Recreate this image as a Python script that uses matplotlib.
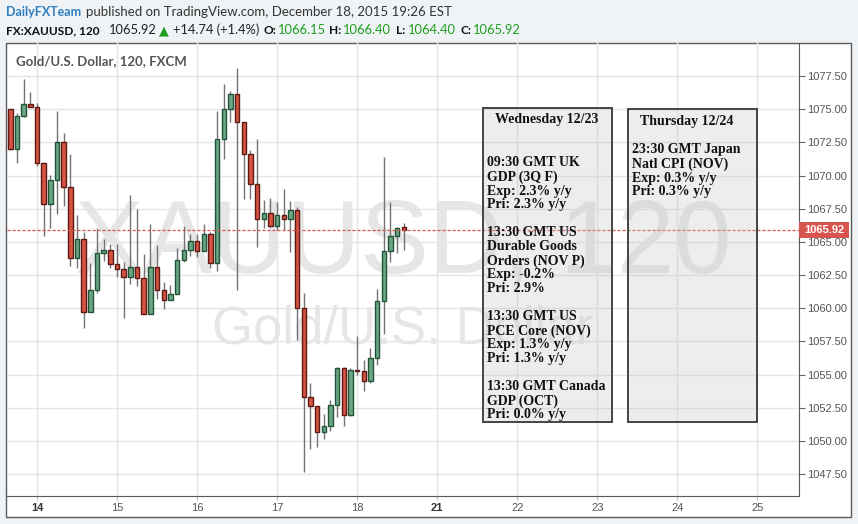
import matplotlib

matplotlib.use("Agg")
import matplotlib.pyplot as plt
from matplotlib.patches import Rectangle
import numpy as np

W, H = 858, 524

# 120-minute bars, Dec 13 (Sunday open) .. Dec 18
opens = [1074.99, 1071.97, 1074.46, 1075.36, 1075.14, 1070.91, 1067.89, 1069.63, 1072.50, 1069.10,
         1063.82, 1065.23, 1059.74, 1061.40, 1064.20, 1064.42, 1063.37, 1062.99, 1062.38, 1063.14,
         1062.31, 1059.59, 1063.14, 1061.40, 1060.65, 1061.10, 1063.67, 1064.42, 1065.10, 1064.35,
         1065.58, 1063.44, 1072.72, 1074.99, 1076.12, 1074.00, 1071.59, 1069.33, 1066.74, 1067.21,
         1066.23, 1066.99, 1066.74, 1067.44, 1060.02, 1053.33, 1052.65, 1050.69, 1051.14, 1052.73,
         1055.52, 1051.97, 1055.37, 1055.29, 1054.54, 1056.27, 1060.57, 1064.35, 1065.48, 1066.15]
highs = [1075.02, 1074.68, 1077.27, 1076.29, 1075.46, 1071.04, 1070.03, 1074.86, 1073.22, 1071.61,
         1067.01, 1065.73, 1063.42, 1066.01, 1065.20, 1064.82, 1064.85, 1063.47, 1068.52, 1067.46,
         1064.07, 1066.38, 1064.75, 1061.96, 1061.73, 1064.57, 1066.18, 1065.58, 1065.58, 1066.33,
         1065.78, 1074.86, 1076.90, 1076.34, 1078.10, 1074.02, 1071.92, 1072.72, 1068.19, 1068.29,
         1067.99, 1068.97, 1068.07, 1067.62, 1061.13, 1054.34, 1052.67, 1052.00, 1053.05, 1055.55,
         1055.59, 1055.52, 1057.88, 1056.12, 1057.03, 1061.48, 1071.39, 1067.99, 1066.13, 1066.40]
lows = [1071.95, 1070.96, 1074.38, 1075.14, 1070.71, 1065.45, 1066.06, 1067.11, 1067.72, 1063.19,
        1063.04, 1058.54, 1059.69, 1061.15, 1063.54, 1063.04, 1062.36, 1059.27, 1061.83, 1061.68,
        1059.57, 1059.57, 1060.70, 1059.94, 1060.63, 1061.08, 1063.49, 1063.92, 1063.87, 1064.33,
        1063.04, 1062.81, 1071.26, 1074.05, 1061.38, 1068.27, 1068.27, 1064.62, 1066.01, 1066.13,
        1065.93, 1065.93, 1064.25, 1057.63, 1047.67, 1049.38, 1049.53, 1050.14, 1050.77, 1051.82,
        1051.14, 1051.90, 1054.97, 1053.76, 1054.36, 1055.74, 1058.06, 1063.52, 1064.17, 1064.40]
closes = [1071.97, 1074.46, 1075.36, 1075.16, 1070.91, 1067.89, 1069.63, 1072.50, 1069.10, 1063.82,
          1065.23, 1059.74, 1061.40, 1064.20, 1064.42, 1063.37, 1062.99, 1062.38, 1063.14, 1062.31,
          1059.59, 1063.14, 1061.40, 1060.65, 1061.10, 1063.67, 1064.42, 1065.10, 1064.35, 1065.58,
          1063.44, 1072.72, 1074.99, 1076.12, 1074.00, 1071.59, 1069.33, 1066.74, 1067.21, 1066.23,
          1066.99, 1066.74, 1067.44, 1060.02, 1053.33, 1052.65, 1050.69, 1051.14, 1052.73, 1055.52,
          1051.97, 1055.37, 1055.27, 1054.54, 1056.27, 1060.57, 1064.35, 1065.48, 1066.06, 1065.92]
last_price = 1065.92

day_pos = [4, 16, 28, 40, 52, 64, 76, 88, 100, 112]
day_labels = ["14", "15", "16", "17", "18", "21", "22", "23", "24", "25"]
price_ticks = [1047.5, 1050.0, 1052.5, 1055.0, 1057.5, 1060.0, 1062.5,
               1065.0, 1067.5, 1070.0, 1072.5, 1075.0, 1077.5]

wed_title = "Wednesday 12/23"
wed_lines = ["09:30 GMT UK", "GDP (3Q F)", "Exp: 2.3% y/y", "Pri: 2.3% y/y", "",
             "13:30 GMT US", "Durable Goods", "Orders (NOV P)", "Exp: -0.2%", "Pri: 2.9%", "",
             "13:30 GMT US", "PCE Core (NOV)", "Exp: 1.3% y/y", "Pri: 1.3% y/y", "",
             "13:30 GMT Canada", "GDP (OCT)", "Pri: 0.0% y/y"]
thu_title = "Thursday 12/24"
thu_lines = ["23:30 GMT Japan", "Natl CPI (NOV)", "Exp: 0.3% y/y", "Pri: 0.3% y/y"]

UP, UP_EDGE = "#6ba583", "#225437"
DN, DN_EDGE = "#d75442", "#5b1a13"
RED = "#d9534f"
GREEN = "#1f9e1f"
SANS = ["Lato", "DejaVu Sans"]


def fx(px):
    return px / W


def fy(py):
    return 1 - py / H


fig = plt.figure(figsize=(W / 100, H / 100), dpi=100, facecolor="#eff3f6")

# white chart panel
fig.add_artist(Rectangle((fx(6), fy(517)), (851 - 6) / W, (517 - 43) / H, transform=fig.transFigure,
                         facecolor="white", edgecolor="#5a5a5a", lw=1, zorder=-1))

ax = fig.add_axes([fx(6.5), fy(496), (799 - 6.5) / W, (496 - 43) / H])
ax.patch.set_visible(False)
ax.set_xlim(-0.57, 118.25)
ax.set_ylim(1045.85, 1079.99)
for side in ("left", "top"):
    ax.spines[side].set_visible(False)
for side in ("right", "bottom"):
    ax.spines[side].set_color("#5a5a5a")

ax.set_xticks(day_pos, day_labels)
ax.set_yticks(price_ticks, [f"{v:.2f}" for v in price_ticks])
ax.yaxis.tick_right()
ax.grid(color="#e5e5e5", lw=1)
ax.set_axisbelow(True)
ax.tick_params(axis="y", length=4, color="#666", labelsize=8, labelcolor="#555", pad=2)
ax.tick_params(axis="x", length=3, color="#bbb", labelsize=8, labelcolor="#555", pad=2)
for lab in ax.get_xticklabels() + ax.get_yticklabels():
    lab.set_family("Liberation Sans")
for lab in ax.get_xticklabels():
    if lab.get_text() in ("14", "21"):
        lab.set_fontweight("bold")
        lab.set_color("#333")

# watermark
ax.text(0.5, 0.4923, "XAUUSD, 120", transform=ax.transAxes, ha="center", va="baseline",
        fontsize=74, family="Liberation Sans", color="#e6e6e6", zorder=0.2)
ax.text(0.5, 0.3377, "Gold/U.S. Dollar", transform=ax.transAxes, ha="center", va="baseline",
        fontsize=38, family="Liberation Sans", color="#e6e6e6", zorder=0.2)

# candles
o, hi, lo, c = map(np.array, (opens, highs, lows, closes))
x = np.arange(len(o))
up = c >= o
ax.vlines(x, lo, hi, color="#737375", lw=1, zorder=2)
bottoms = np.minimum(o, c)
heights = np.maximum(np.abs(c - o), 0.1)
ax.bar(x[up], heights[up], 0.66, bottoms[up], color=UP, edgecolor=UP_EDGE, lw=1, zorder=3)
ax.bar(x[~up], heights[~up], 0.66, bottoms[~up], color=DN, edgecolor=DN_EDGE, lw=1, zorder=3)

# last price line and tag
ax.axhline(last_price, color=RED, lw=0.9, ls=(0, (2.5, 1.5)), zorder=4)
ytr = ax.get_yaxis_transform()
ax.add_patch(Rectangle((1.0, last_price - 0.6), 50 / 792.5, 1.2, transform=ytr, clip_on=False,
                       facecolor=RED, edgecolor="none", zorder=5))
ax.text(1.0 + 5 / 792.5, last_price, f"{last_price:.2f}", transform=ytr, ha="left", va="center",
        fontsize=8, family="Liberation Sans", fontweight="bold", color="white", zorder=6)

# event boxes
for left, top, right, bottom, title, title_base, lines, first_base in (
    (483, 108, 612, 421.5, wed_title, 123, wed_lines, 165.7),
    (628, 109, 757, 421.5, thu_title, 125, thu_lines, 152.7),
):
    fig.add_artist(Rectangle((fx(left), fy(bottom)), (right - left) / W, (bottom - top) / H,
                             transform=fig.transFigure, facecolor=(0.78, 0.78, 0.78, 0.32),
                             edgecolor="#444", lw=1.4, zorder=5))
    fig.text(fx(left + 12), fy(title_base), title, family="Liberation Serif", fontweight="bold",
             fontsize=10, color="#111", va="baseline", zorder=6)
    fig.text(fx(left + 4), fy(first_base - 9.5), "\n".join(lines), family="Liberation Serif",
             fontweight="bold", fontsize=10, color="#111", va="top", linespacing=1.09, zorder=6)

# header
fig.text(fx(6), fy(16), "DailyFXTeam", family=SANS, fontweight="bold", fontsize=9,
         color="#2f7fc1", va="baseline")
fig.text(fx(86), fy(16), "published on TradingView.com, December 18, 2015 19:26 EST",
         family=SANS, fontsize=9.5, color="#333", va="baseline")

segments = [
    (6, "FX:XAUUSD, 120", "bold", "#111"),
    (109, "1065.92", "normal", "#222"),
    (159, "\u25b2", "normal", GREEN),
    (173, "+14.74 (+1.4%)", "normal", "#222"),
    (263, "O:", "bold", "#111"),
    (278, "1066.15", "normal", GREEN),
    (329, "H:", "bold", "#111"),
    (343, "1066.40", "normal", GREEN),
    (396, "L:", "bold", "#111"),
    (408, "1064.40", "normal", GREEN),
    (460, "C:", "bold", "#111"),
    (473, "1065.92", "normal", GREEN),
]
for px, txt, weight, col in segments:
    fig.text(fx(px), fy(34.5), txt, family=SANS, fontweight=weight,
             fontsize=8.6 if weight == "bold" else 9.3, color=col, va="baseline")

fig.text(fx(16), fy(65.5), "Gold/U.S. Dollar, 120, FXCM", family=SANS, fontweight="bold",
         fontsize=9.5, color="#555", va="baseline")

fig.savefig("out.png", dpi=100, facecolor=fig.get_facecolor())
